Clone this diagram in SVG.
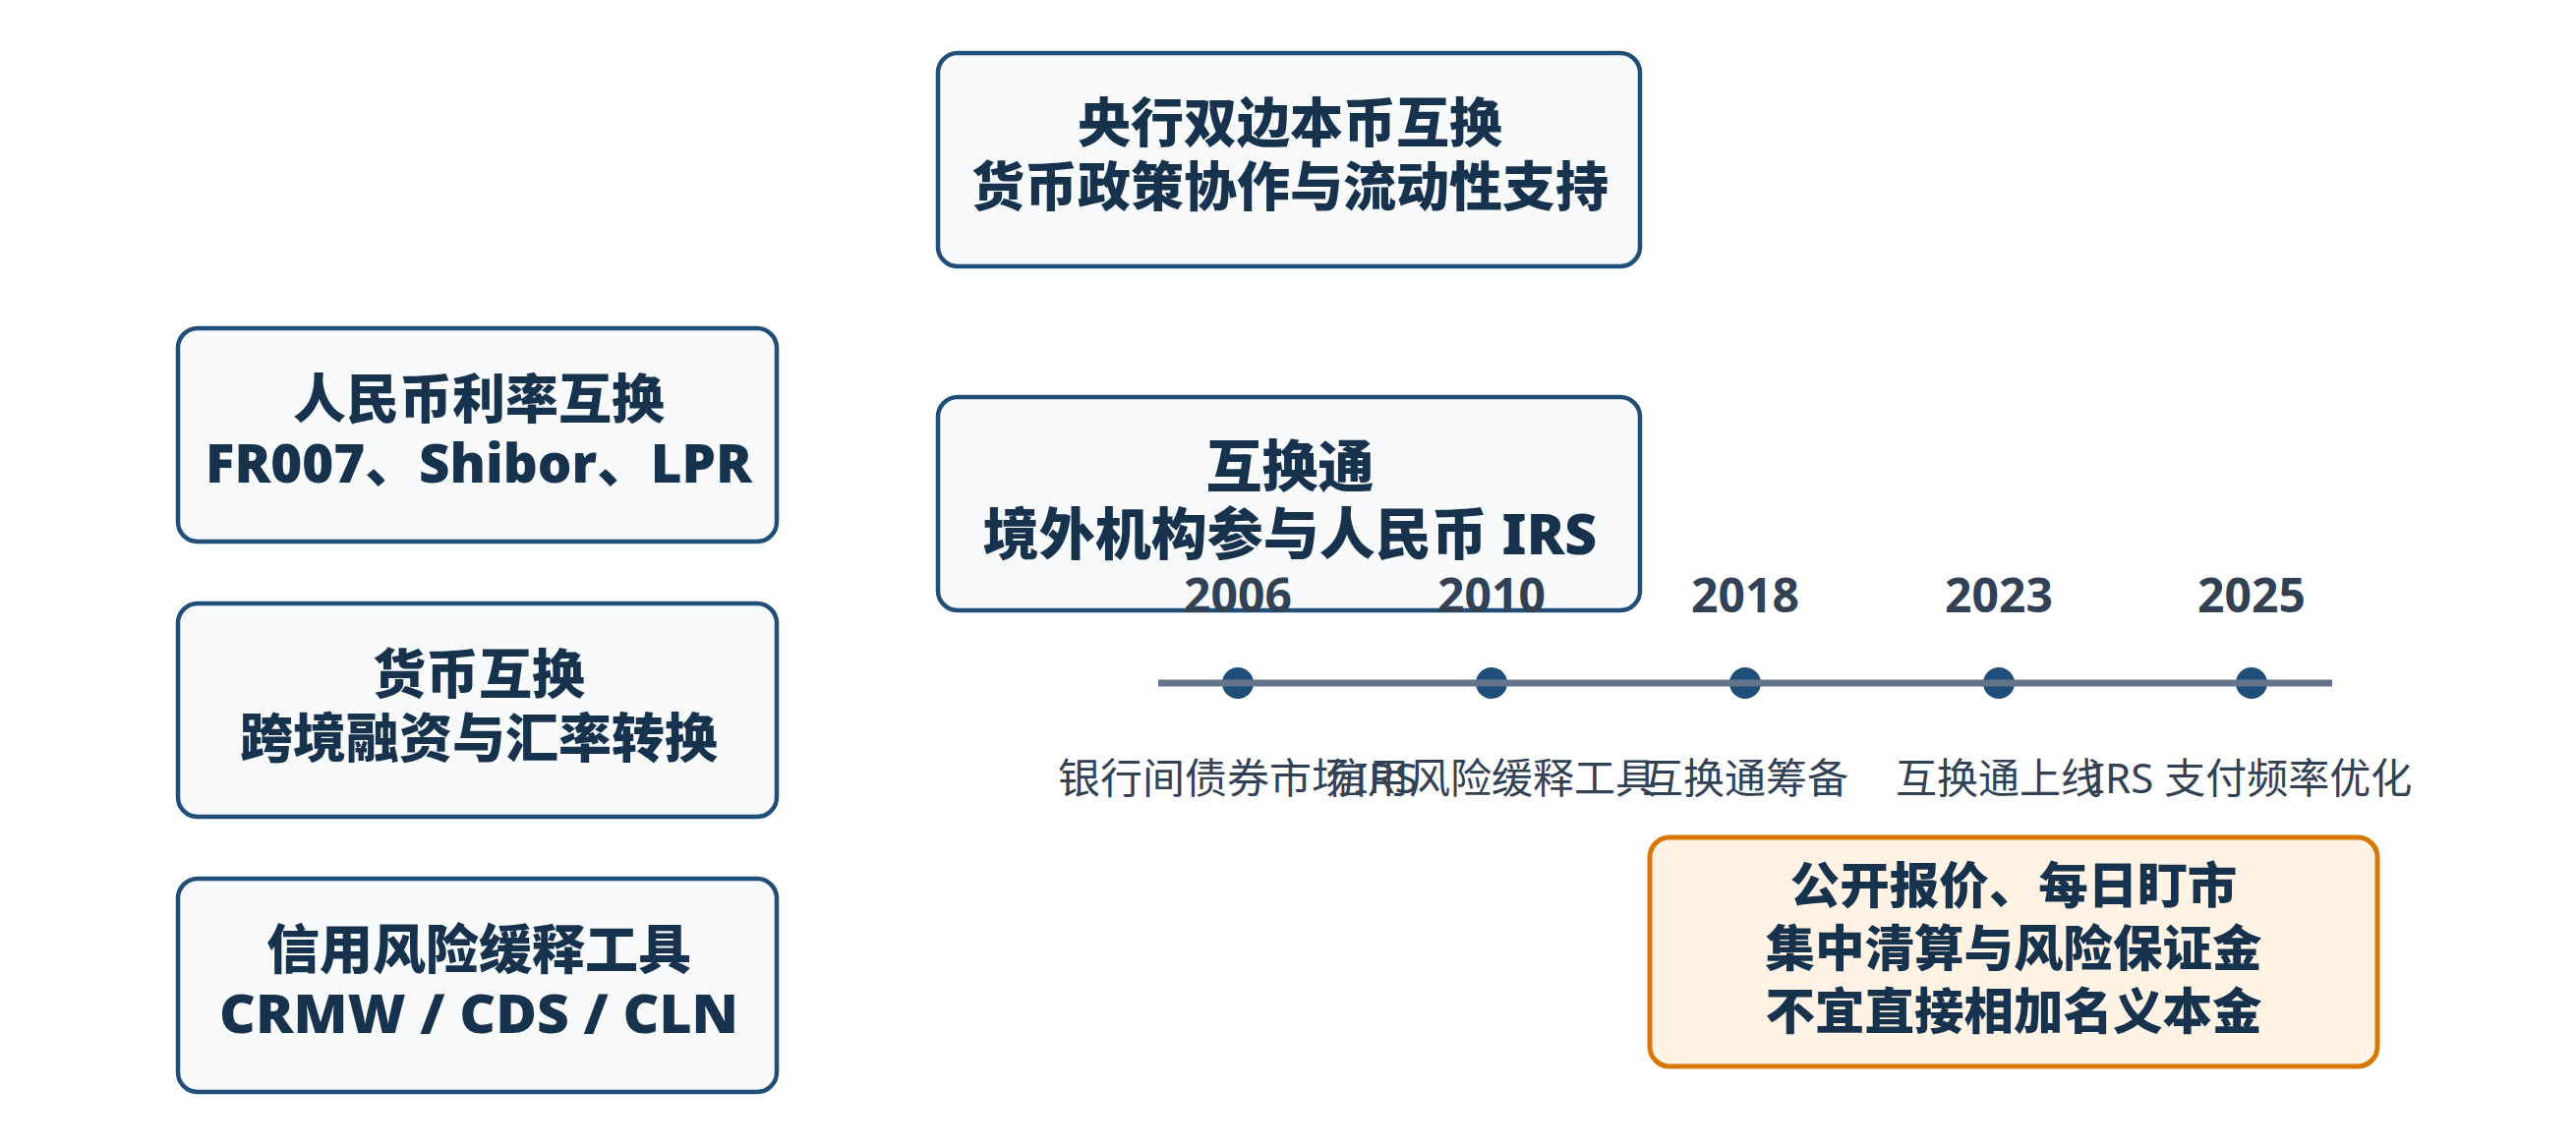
<svg xmlns="http://www.w3.org/2000/svg" width="2620" height="1166" viewBox="0 0 2620 1166">
  <style>
    text { font-family: "Noto Sans", "Noto Sans CJK SC", sans-serif; }
    .box { fill: #f8fafc; stroke: #1f4e79; stroke-width: 4.5; }
    .hl { fill: #fef3e4; stroke: #d97706; stroke-width: 5; }
    .t { font-size: 54px; font-weight: 900; fill: #17324d; text-anchor: middle; }
    .t57 { font-size: 57px; }
    .t50 { font-size: 50.5px; }
    .yr { font-size: 48px; font-weight: 700; fill: #334155; text-anchor: middle; }
    .lb { font-size: 42px; font-weight: 400; fill: #334155; text-anchor: middle; }
    .dot { fill: #1f4e79; }
  </style>
  <rect width="2620" height="1166" fill="#ffffff"/>

  <g id="node-swap-line">
    <rect class="box" x="954" y="54" width="714" height="217" rx="20"/>
    <text class="t" x="1312" y="145">央行双边本币互换</text>
    <text class="t" x="1312" y="210">货币政策协作与流动性支持</text>
  </g>

  <g id="node-irs">
    <rect class="box" x="181" y="334" width="609" height="217" rx="20"/>
    <text class="t" x="487" y="426">人民币利率互换</text>
    <text class="t" x="487" y="491" textLength="556" lengthAdjust="spacingAndGlyphs">FR007、Shibor、LPR</text>
  </g>

  <g id="node-ccs">
    <rect class="box" x="181" y="614" width="609" height="217" rx="20"/>
    <text class="t" x="487" y="706">货币互换</text>
    <text class="t" x="487" y="771">跨境融资与汇率转换</text>
  </g>

  <g id="node-credit">
    <rect class="box" x="181" y="894" width="609" height="217" rx="20"/>
    <text class="t" x="487" y="986">信用风险缓释工具</text>
    <text class="t" x="487" y="1051" textLength="528" lengthAdjust="spacingAndGlyphs">CRMW / CDS / CLN</text>
  </g>

  <g id="node-swap-connect">
    <rect class="box" x="954" y="404" width="714" height="217" rx="20"/>
    <text class="t t57" x="1312" y="495">互换通</text>
    <text class="t t57" x="1312" y="564">境外机构参与人民币 IRS</text>
  </g>

  <g id="node-note">
    <rect class="hl" x="1678" y="852" width="740" height="233" rx="20"/>
    <text class="t t50" x="2048" y="919">公开报价、每日盯市</text>
    <text class="t t50" x="2048" y="983">集中清算与风险保证金</text>
    <text class="t t50" x="2048" y="1047">不宜直接相加名义本金</text>
  </g>

  <g id="timeline">
    <g id="dots">
      <circle class="dot" cx="1259" cy="695" r="16"/>
      <circle class="dot" cx="1517" cy="695" r="16"/>
      <circle class="dot" cx="1775" cy="695" r="16"/>
      <circle class="dot" cx="2033" cy="695" r="16"/>
      <circle class="dot" cx="2290" cy="695" r="16"/>
    </g>
    <line x1="1178" y1="695" x2="2372" y2="695" stroke="#64748b" stroke-width="7"/>
    <g id="years">
      <text class="yr" x="1259" y="623">2006</text>
      <text class="yr" x="1517" y="623">2010</text>
      <text class="yr" x="1775" y="623">2018</text>
      <text class="yr" x="2033" y="623">2023</text>
      <text class="yr" x="2290" y="623">2025</text>
    </g>
    <g id="labels">
      <text class="lb" x="1259" y="807" textLength="366" lengthAdjust="spacingAndGlyphs">银行间债券市场IRS</text>
      <text class="lb" x="1517" y="807">信用风险缓释工具</text>
      <text class="lb" x="1775" y="807">互换通筹备</text>
      <text class="lb" x="2033" y="807">互换通上线</text>
      <text class="lb" x="2290" y="807">IRS 支付频率优化</text>
    </g>
  </g>
</svg>
